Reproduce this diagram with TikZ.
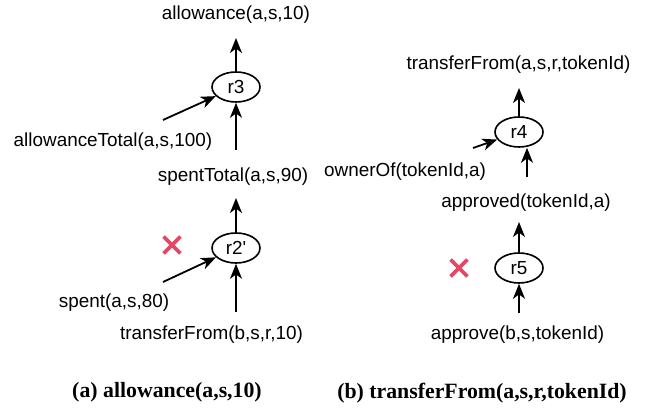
\documentclass[tikz,border=0pt]{standalone}
\usepackage{fontspec}
\newfontfamily\lblfont{Liberation Sans}
\newfontfamily\capfont{Liberation Serif}
\usetikzlibrary{arrows.meta}
\usetikzlibrary{shapes.geometric,shapes.misc}

\tikzset{
	lbl/.style={inner sep=0pt, font=\lblfont\fontsize{9.45}{11}\selectfont},
	rule/.style={draw, ellipse, line width=0.8pt, minimum width=24pt, minimum height=15pt, inner sep=0pt, font=\lblfont\fontsize{9.45}{11}\selectfont},
	arr/.style={line width=0.9pt, -{Stealth[length=7.5pt,width=6pt,inset=2.2pt]}},
	capt/.style={inner sep=0pt, font=\capfont\bfseries\fontsize{10.9}{13}\selectfont},
	crossmark/.style={cross out, draw=crossred, line width=1.9pt, minimum size=6.5pt, inner sep=0pt}
}
\definecolor{crossred}{RGB}{228,72,102}

\begin{document}
\begin{tikzpicture}[x=0.5pt,y=-0.5pt]
	\useasboundingbox (0,0) rectangle (646,410);
	
	% (a) allowance
	\node[lbl] (allow) at (236,15) {allowance(a,s,10)};
	\node[rule] (r3) at (236,87) {r3};
	\node[lbl] (allowTot) at (113,142) {allowanceTotal(a,s,100)};
	\node[lbl] (spentTot) at (233,177) {spentTotal(a,s,90)};
	\node[rule] (r2) at (236,248) {r2'};
	\node[crossmark] (x1) at (172,245) {};
	\node[lbl] (spent) at (114,303) {spent(a,s,80)};
	\node[lbl] (tfB) at (211.5,335) {transferFrom(b,s,r,10)};
	\node[capt] (capA) at (167,392) {(a) allowance(a,s,10)};
	
	\coordinate (h1) at (236,38);
	\coordinate (t1) at (163,120);
	\coordinate (t2) at (236,150);
	\coordinate (h2) at (236,198);
	\coordinate (t3) at (163,282);
	\coordinate (t4) at (236,312);
	
	\draw[arr] (r3) -- (h1);
	\draw[arr] (t1) -- (r3);
	\draw[arr] (t2) -- (r3);
	\draw[arr] (r2) -- (h2);
	\draw[arr] (t3) -- (r2);
	\draw[arr] (t4) -- (r2);
	
	% (b) transferFrom
	\node[lbl] (tfA) at (518.5,65) {transferFrom(a,s,r,tokenId)};
	\node[rule] (r4) at (519,132) {r4};
	\node[lbl] (owner) at (405,172) {ownerOf(tokenId,a)};
	\node[lbl] (approved) at (526,203) {approved(tokenId,a)};
	\node[rule] (r5) at (519,268) {r5};
	\node[crossmark] (x2) at (459,268) {};
	\node[lbl] (approve) at (517.5,335) {approve(b,s,tokenId)};
	\node[capt] (capB) at (482,393) {(b) transferFrom(a,s,r,tokenId)};
	
	\coordinate (h3) at (519,88);
	\coordinate (t5) at (473,148);
	\coordinate (t6) at (527,177);
	\coordinate (h4) at (519,222);
	\coordinate (t7) at (519,313);
	
	\draw[arr] (r4) -- (h3);
	\draw[arr] (t5) -- (r4);
	\draw[arr] (t6) -- (t6 |- r4.south);
	\draw[arr] (r5) -- (h4);
	\draw[arr] (t7) -- (r5);
\end{tikzpicture}
\end{document}
